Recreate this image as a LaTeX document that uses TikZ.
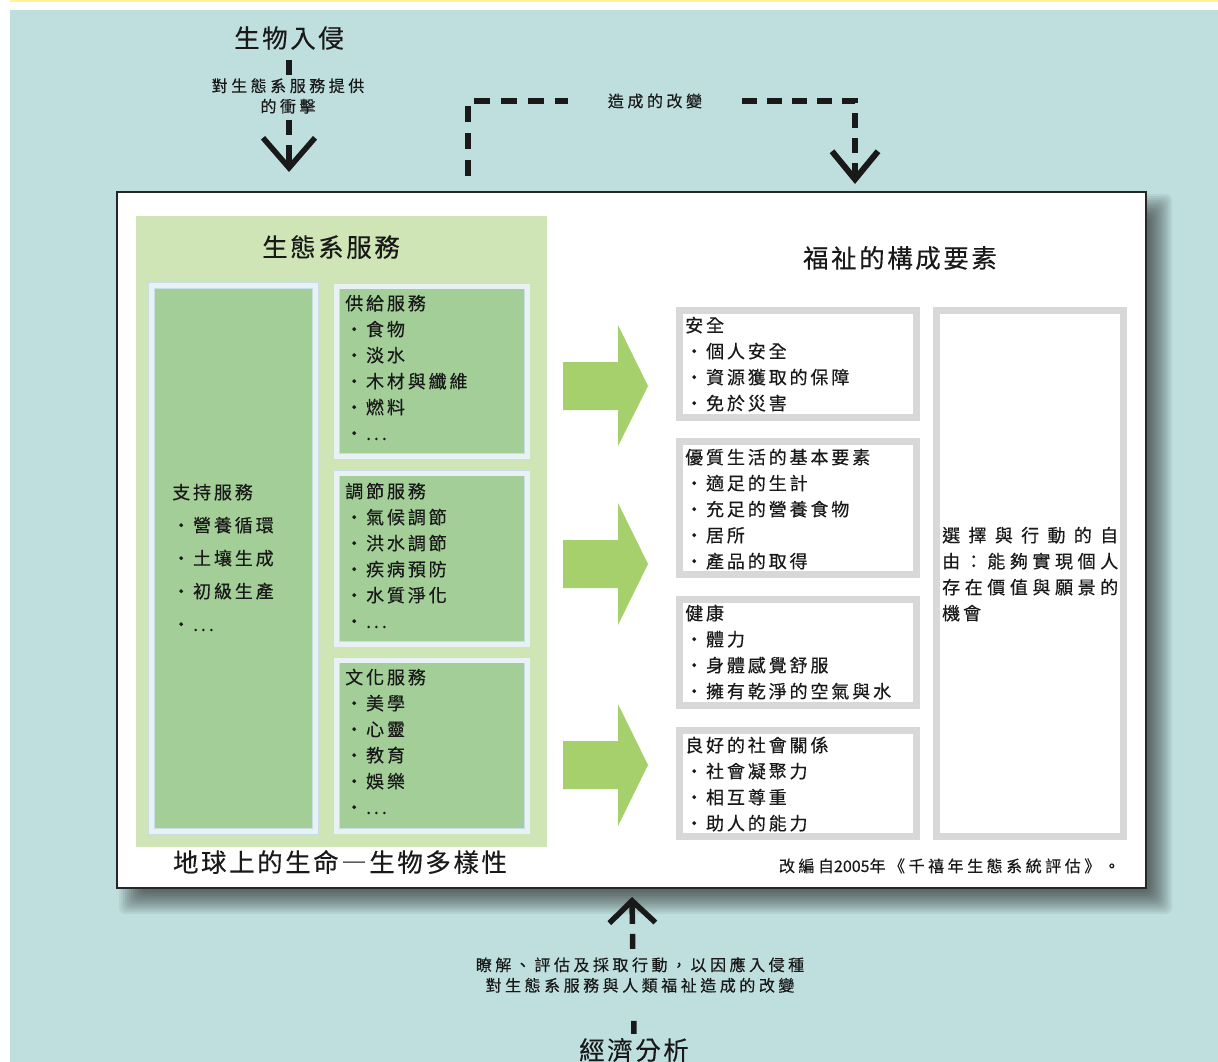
\documentclass[tikz,border=0pt]{standalone}
\usepackage{fontspec}
\usetikzlibrary{arrows.meta}
\newfontfamily\cjkA[LetterSpace=16,FakeBold=0.4]{Noto Sans CJK TC}
\newfontfamily\cjkT[LetterSpace=10,FakeBold=0.3]{Noto Sans CJK TC}
\newfontfamily\cjkS[LetterSpace=22,FakeBold=0.3]{Noto Sans CJK TC}
\newfontfamily\cjkN[FakeBold=0.3]{Noto Sans CJK TC}
\definecolor{bgteal}{RGB}{191,223,222}
\definecolor{topyel}{RGB}{255,243,150}
\definecolor{panelg}{RGB}{207,229,181}
\definecolor{innerg}{RGB}{163,206,152}
\definecolor{frm}{RGB}{232,242,244}
\definecolor{frmline}{RGB}{198,222,228}
\definecolor{arrg}{RGB}{166,208,108}
\definecolor{grayfr}{RGB}{216,216,216}
\definecolor{ink}{RGB}{25,25,25}
\begin{document}
\begin{tikzpicture}[x=1pt,y=-1pt,
  gbox/.style={draw=frmline, double=frm, double distance=5pt, line width=0.8pt, fill=innerg, anchor=north west, inner sep=0, outer sep=0},
  rbox/.style={draw=grayfr, line width=7pt, fill=white, anchor=north west, inner sep=0, outer sep=0},
  bodytxt/.style={font=\cjkA\fontsize{18}{26}\selectfont, text=ink, anchor=base west, inner sep=0, align=left, text width=230pt},
  suptxt/.style={font=\cjkA\fontsize{18}{33}\selectfont, text=ink, anchor=base west, inner sep=0, align=left, text width=140pt},
  titletxt/.style={font=\cjkT\fontsize{25.5}{30}\selectfont, text=ink, inner sep=0},
  smalltxt/.style={font=\cjkS\fontsize{16}{20.5}\selectfont, text=ink, align=center, inner sep=0},
  blkline/.style={draw=ink, line width=5.5pt},
  greenarrow/.style={fill=arrg},
  shadowlayer/.style={fill=black, opacity=0.055, rounded corners=6pt}
]
\useasboundingbox (0,0) rectangle (1218,1062);
\fill[white] (0,0) rectangle (1218,1062);
\fill[topyel] (10,0) rectangle (1218,2.5);
\fill[bgteal] (10,10) rectangle (1218,1062);

% soft shadow of the main box
\foreach \i in {0,...,11} {
  \fill[shadowlayer] (119+2*\i,194+2*\i) rectangle (1172-2*\i,914-2*\i);
}

% main box
\node[draw=black!85, line width=2pt, fill=white, anchor=north west, inner sep=0, outer sep=0,
      minimum width=1029pt, minimum height=696pt] (main) at (117,192) {};

% ecosystem services panel
\node[fill=panelg, anchor=north west, inner sep=0, outer sep=0, minimum width=411pt, minimum height=631pt] (eco) at (136,216) {};
\node[titletxt] (ecotitle) at (331,247) {生態系服務};

\node[gbox, minimum width=164pt, minimum height=546pt] (supp) at (151.5,285.5) {};
\node[gbox, minimum width=190.5pt, minimum height=170pt] (prov) at (336.5,286) {};
\node[gbox, minimum width=190.5pt, minimum height=171pt] (reg) at (336.5,473) {};
\node[gbox, minimum width=190.5pt, minimum height=171pt] (cult) at (336.5,660) {};

\node[suptxt] (supptext) at (172,499) {支持服務\\・營養循環\\・土壤生成\\・初級生產\\・...};
\node[bodytxt] (provtext) at (345,310) {供給服務\\・食物\\・淡水\\・木材與纖維\\・燃料\\・...};
\node[bodytxt] (regtext) at (345,498) {調節服務\\・氣候調節\\・洪水調節\\・疾病預防\\・水質淨化\\・...};
\node[bodytxt] (culttext) at (345,684) {文化服務\\・美學\\・心靈\\・教育\\・娛樂\\・...};

\node[titletxt] (biodiv) at (340,862) {地球上的生命―生物多樣性};

% green block arrows
\fill[greenarrow] (563,362) -- (618,362) -- (618,325) -- (648,386) -- (618,446) -- (618,410) -- (563,410) -- cycle;
\fill[greenarrow] (563,540) -- (618,540) -- (618,503) -- (648,564) -- (618,625) -- (618,588) -- (563,588) -- cycle;
\fill[greenarrow] (563,741) -- (618,741) -- (618,704) -- (648,765) -- (618,826) -- (618,789) -- (563,789) -- cycle;

% well-being
\node[titletxt] (wbtitle) at (900,258) {福祉的構成要素};
\node[rbox, minimum width=237pt, minimum height=107pt] (safe) at (679.5,310.5) {};
\node[rbox, minimum width=237pt, minimum height=133pt] (basic) at (679.5,441.5) {};
\node[rbox, minimum width=237pt, minimum height=106pt] (health) at (679.5,599.5) {};
\node[rbox, minimum width=237pt, minimum height=106pt] (social) at (679.5,730.5) {};
\node[rbox, minimum width=187pt, minimum height=526pt] (free) at (936.5,310.5) {};

\node[bodytxt] (safetext) at (685,332) {安全\\・個人安全\\・資源獲取的保障\\・免於災害};
\node[bodytxt] (basictext) at (685,464) {優質生活的基本要素\\・適足的生計\\・充足的營養食物\\・居所\\・產品的取得};
\node[bodytxt] (healthtext) at (685,620) {健康\\・體力\\・身體感覺舒服\\・擁有乾淨的空氣與水};
\node[bodytxt] (socialtext) at (685,752) {良好的社會關係\\・社會凝聚力\\・相互尊重\\・助人的能力};
\node[bodytxt, text width=180pt] (freetext) at (942,542) {\makebox[176pt][s]{選\hfill 擇\hfill 與\hfill 行\hfill 動\hfill 的\hfill 自}\\
\makebox[176pt][s]{由\hfill ：\hfill 能\hfill 夠\hfill 實\hfill 現\hfill 個\hfill 人}\\
\makebox[176pt][s]{存\hfill 在\hfill 價\hfill 值\hfill 與\hfill 願\hfill 景\hfill 的}\\
機會};

\node[font=\cjkS\fontsize{16}{20}\selectfont, text=ink, anchor=base east, inner sep=0] (source) at (1120,872) {改編自{\cjkN 2005}年《千禧年生態系統評估》。};

% top-left: invasion
\node[titletxt, inner sep=10pt] (invade) at (289,38) {生物入侵};
\node[smalltxt] (impact) at (288,96) {對生態系服務提供\\的衝擊};
\coordinate (invtip) at (289,172);
\draw[blkline, dash pattern=on 15pt off 45pt on 15pt off 10pt on 60pt,
      -{Straight Barb[length=30pt,width=52pt]}] (invade.south) -- (invtip);

% change bracket
\node[smalltxt, inner xsep=40pt] (change) at (655,101) {造成的改變};
\coordinate (chgstart) at (468,176);
\coordinate (chgtip) at (855,184);
\draw[draw=ink, line width=6pt, dash pattern=on 16pt off 11pt] (chgstart) |- (change.west);
\draw[draw=ink, line width=6pt, dash pattern=on 15pt off 10pt,
      -{Straight Barb[length=28pt,width=46pt]}] (change.east) -| (chgtip);

% bottom: economic analysis
\node[titletxt] (econ) at (634,1050) {經濟分析};
\node[smalltxt] (understand) at (640,975) {瞭解、評估及採取行動，以因應入侵種\\對生態系服務與人類福祉造成的改變};
\coordinate (uptip) at (632,897);
\draw[blkline, shorten <=4pt, dash pattern=on 13pt off 72pt on 15pt off 10pt on 40pt,
      -{Straight Barb[length=22pt,width=46pt]}] (econ.north) -- (uptip);
\end{tikzpicture}
\end{document}
